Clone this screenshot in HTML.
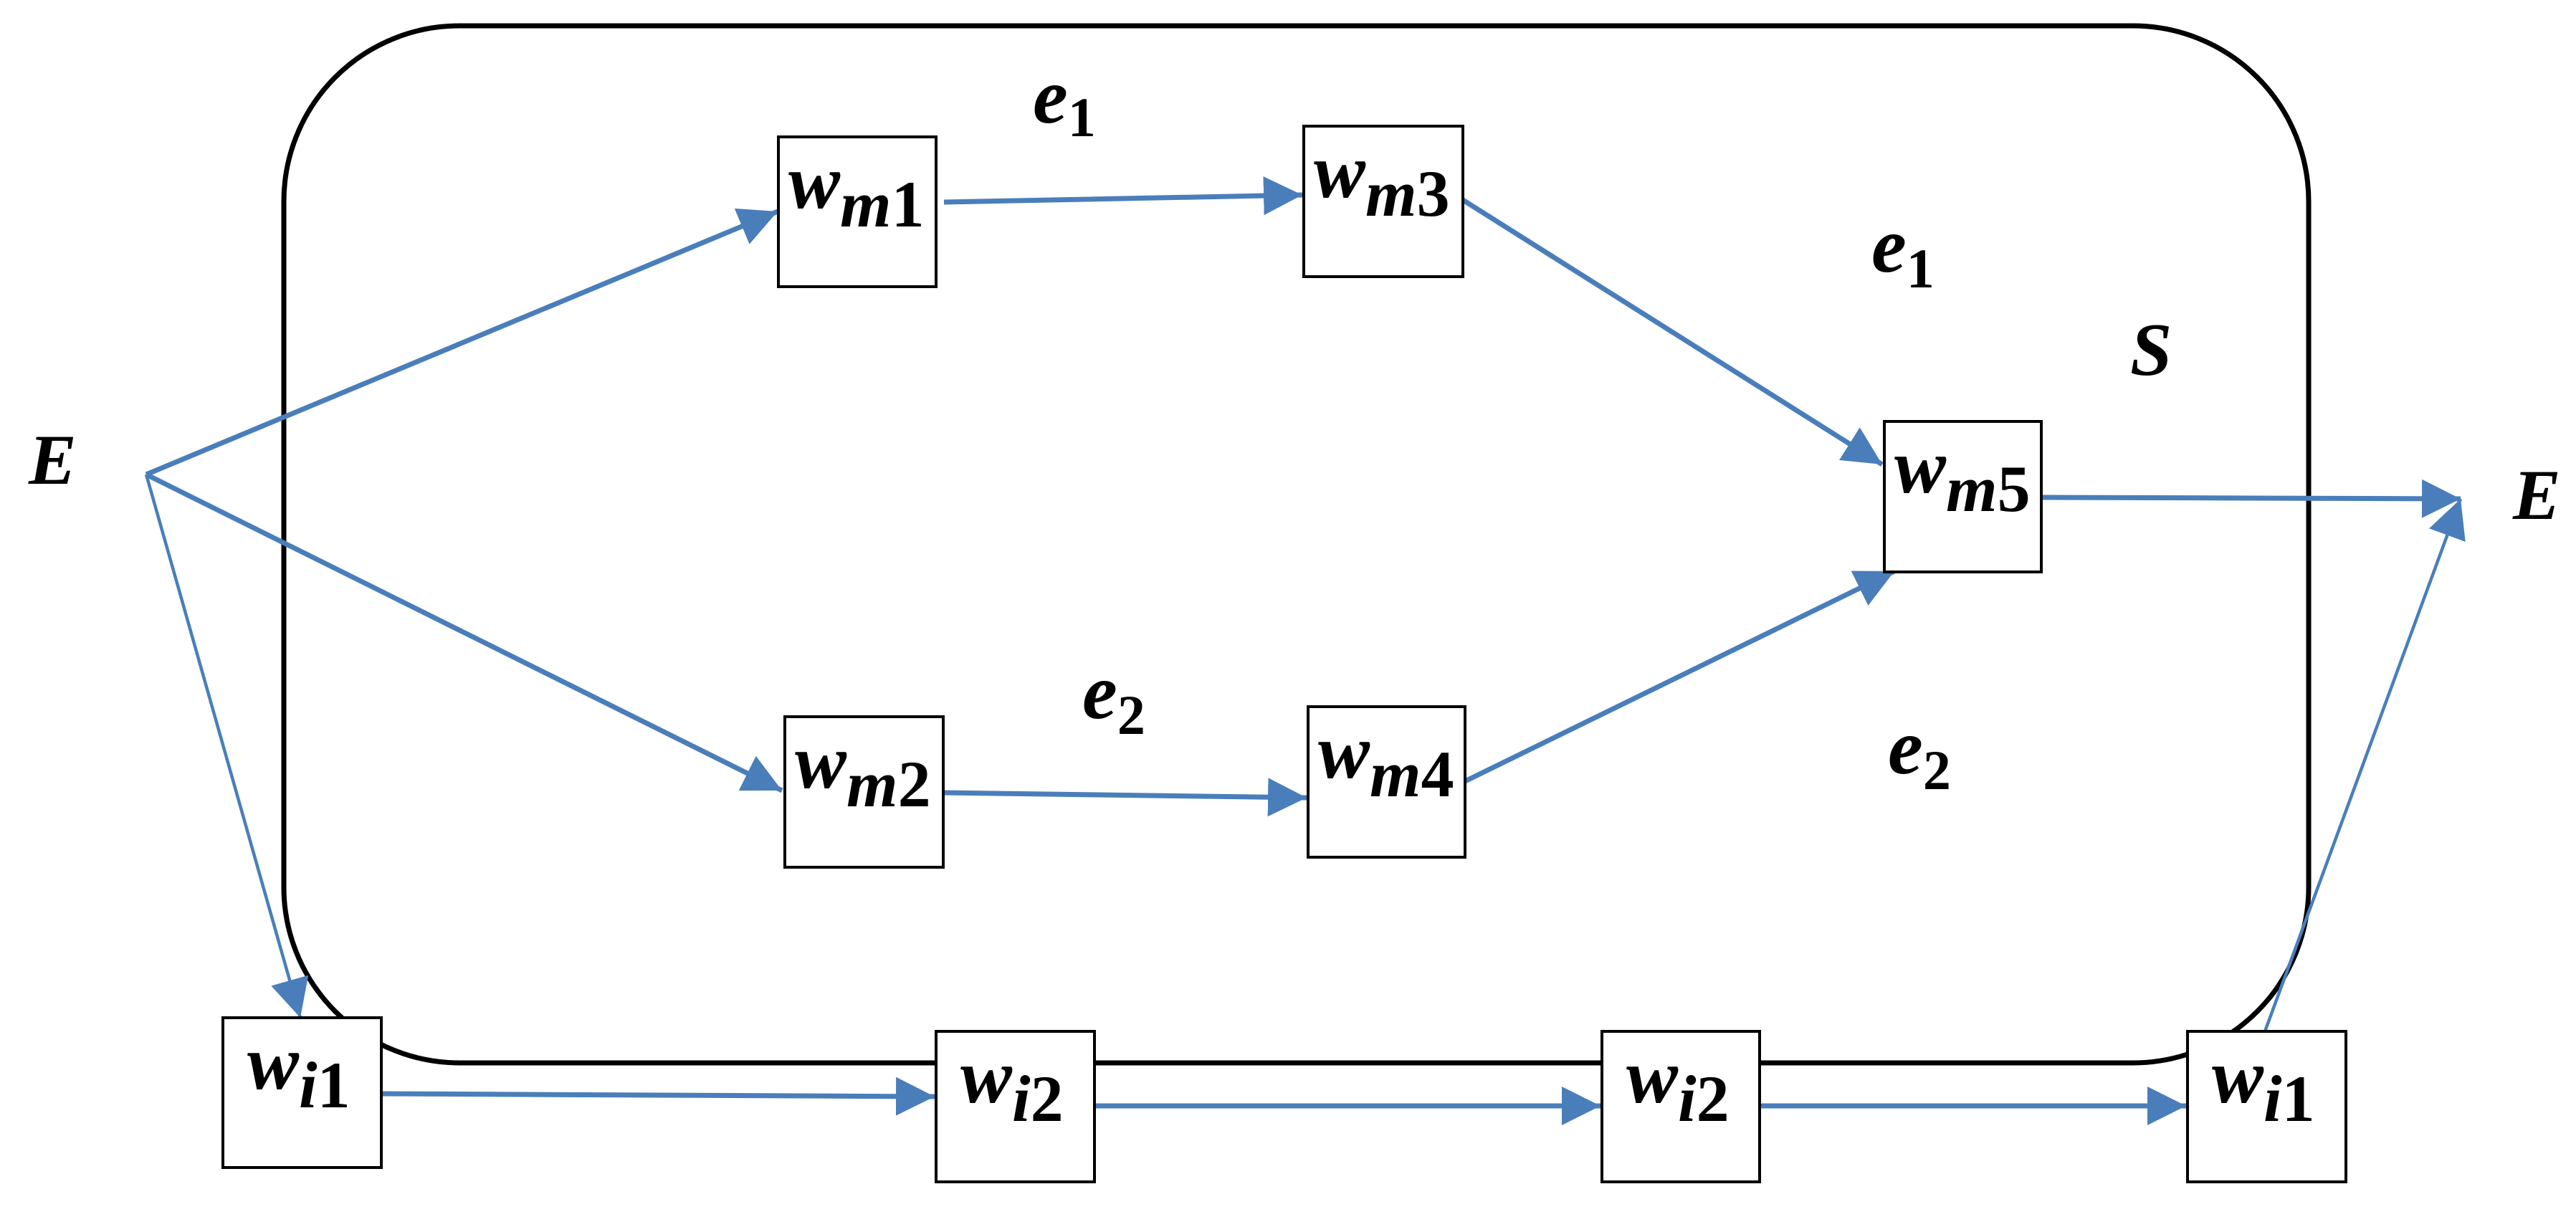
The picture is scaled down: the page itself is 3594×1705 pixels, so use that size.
<!DOCTYPE html>
<html><head><meta charset="utf-8"><style>
html,body{margin:0;padding:0;background:#fff;}
svg{display:block;}
text{font-family:"Liberation Serif",serif;font-weight:bold;fill:#000;}
</style></head><body>
<svg width="3594" height="1705" viewBox="0 0 3594 1705" xmlns="http://www.w3.org/2000/svg">
<defs>
<marker id="ah" markerUnits="userSpaceOnUse" markerWidth="56" markerHeight="56" refX="54" refY="27" orient="auto">
<path d="M0,0 L54,27 L0,54 z" fill="#4A7EBB"/>
</marker>
</defs>
<rect x="396" y="36" width="2825" height="1447" rx="245" ry="245" fill="none" stroke="#000" stroke-width="7"/>

<g stroke="#4A7EBB" stroke-width="7" fill="none">
<line x1="204" y1="662" x2="1085" y2="295" marker-end="url(#ah)"/>
<line x1="204" y1="662" x2="1091" y2="1103" marker-end="url(#ah)"/>
<line x1="204" y1="662" x2="419" y2="1420" stroke-width="4.5" marker-end="url(#ah)"/>
<line x1="1317" y1="282" x2="1817" y2="272" marker-end="url(#ah)"/>
<line x1="1317" y1="1106" x2="1823" y2="1113" marker-end="url(#ah)"/>
<line x1="2041" y1="279" x2="2626" y2="648" marker-end="url(#ah)"/>
<line x1="2044" y1="1090" x2="2643" y2="797" marker-end="url(#ah)"/>
<line x1="2848" y1="694" x2="3433" y2="696" marker-end="url(#ah)"/>
<line x1="3160" y1="1439" x2="3433" y2="696" stroke-width="4.5" marker-end="url(#ah)"/>
<line x1="532" y1="1526" x2="1304" y2="1530" marker-end="url(#ah)"/>
<line x1="1527" y1="1543" x2="2233" y2="1543" marker-end="url(#ah)"/>
<line x1="2455" y1="1543" x2="3050" y2="1543" marker-end="url(#ah)"/>
</g>

<g fill="#fff" stroke="#000" stroke-width="4">
<rect x="1086" y="191" width="220" height="209"/>
<rect x="1819" y="176" width="222" height="210"/>
<rect x="1095" y="1000" width="221" height="210"/>
<rect x="1825" y="986" width="219" height="210"/>
<rect x="2629" y="588" width="219" height="210"/>
<rect x="311" y="1420" width="221" height="209"/>
<rect x="1306" y="1439" width="221" height="210"/>
<rect x="2235" y="1439" width="220" height="210"/>
<rect x="3052" y="1439" width="221" height="210"/>
</g>

<g font-size="108">
<text x="1100" y="290" font-style="italic">w<tspan dy="26" font-size="92">m</tspan><tspan font-size="92" font-style="normal">1</tspan></text>
<text x="1833" y="275" font-style="italic">w<tspan dy="26" font-size="92">m</tspan><tspan font-size="92" font-style="normal">3</tspan></text>
<text x="1109" y="1099" font-style="italic">w<tspan dy="26" font-size="92">m</tspan><tspan font-size="92" font-style="normal">2</tspan></text>
<text x="1839" y="1085" font-style="italic">w<tspan dy="26" font-size="92">m</tspan><tspan font-size="92" font-style="normal">4</tspan></text>
<text x="2643" y="687" font-style="italic">w<tspan dy="26" font-size="92">m</tspan><tspan font-size="92" font-style="normal">5</tspan></text>
<text x="345" y="1519" font-style="italic">w<tspan dy="26" font-size="92">i</tspan><tspan font-size="92" font-style="normal">1</tspan></text>
<text x="1340" y="1538" font-style="italic">w<tspan dy="26" font-size="92">i</tspan><tspan font-size="92" font-style="normal">2</tspan></text>
<text x="2269" y="1538" font-style="italic">w<tspan dy="26" font-size="92">i</tspan><tspan font-size="92" font-style="normal">2</tspan></text>
<text x="3086" y="1538" font-style="italic">w<tspan dy="26" font-size="92">i</tspan><tspan font-size="92" font-style="normal">1</tspan></text>
</g>

<g>
<text x="1441" y="171" font-size="110" font-style="italic">e<tspan dy="19" font-size="78" font-style="normal">1</tspan></text>
<text x="2611" y="379" font-size="110" font-style="italic">e<tspan dy="22" font-size="78" font-style="normal">1</tspan></text>
<text x="1510" y="1002" font-size="110" font-style="italic">e<tspan dy="22" font-size="78" font-style="normal">2</tspan></text>
<text x="2634" y="1079" font-size="110" font-style="italic">e<tspan dy="22" font-size="78" font-style="normal">2</tspan></text>
<text x="40" y="675" font-size="100" font-style="italic">E</text>
<text x="3506" y="724" font-size="100" font-style="italic">E</text>
<text x="2972" y="523" font-size="105" font-style="italic">S</text>
</g>
</svg>
</body></html>
